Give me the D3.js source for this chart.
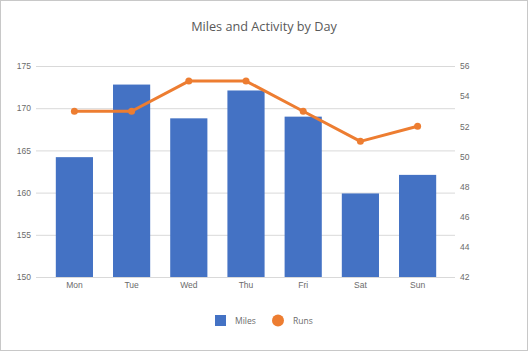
<!DOCTYPE html>
<html>
<head>
<meta charset="utf-8">
<script src="https://cdn.jsdelivr.net/npm/d3@7"></script>
<style>
  body { margin: 0; background: #fff; }
  svg { font-family: "Open Sans", "Noto Sans", sans-serif; }
</style>
</head>
<body>
<div id="chart"></div>
<script>
const days = ["Mon", "Tue", "Wed", "Thu", "Fri", "Sat", "Sun"];
const miles = [164.2, 172.8, 168.8, 172.1, 169.0, 159.9, 162.1];
const runs = [53, 53, 55, 55, 53, 51, 52];
const leftTicks = [150, 155, 160, 165, 170, 175];
const rightTicks = [42, 44, 46, 48, 50, 52, 54, 56];

const w = 528, h = 351;
const plotTop = 66, plotBottom = 277;
const gridLeft = 36, gridRight = 455;
const textColor = "#6b6b6b";

const svg = d3.select("#chart").append("svg")
  .attr("width", w).attr("height", h);

svg.append("rect")
  .attr("x", 0.5).attr("y", 0.5)
  .attr("width", w - 1).attr("height", h - 1)
  .attr("fill", "#fff").attr("stroke", "#c8c8c8");

const xScale = d3.scaleBand().domain(days).range([45.8, 446.2]).paddingInner(0.35).paddingOuter(0.175);
const yLeft = d3.scaleLinear().domain([150, 175]).range([plotBottom, plotTop]);
const yRight = d3.scaleLinear().domain([42, 56]).range([plotBottom, plotTop]);

// gridlines
svg.append("g").selectAll("line")
  .data(leftTicks)
  .enter()
  .append("line")
    .attr("x1", gridLeft).attr("x2", gridRight)
    .attr("y1", d => yLeft(d) + 0.5).attr("y2", d => yLeft(d) + 0.5)
    .attr("stroke", "#d9d9d9");

// left axis
const leftAxis = d3.axisLeft(yLeft).tickValues(leftTicks).tickSize(0).tickPadding(5);
svg.append("g")
  .attr("transform", "translate(" + gridLeft + ",0)")
  .call(leftAxis)
  .call(g => g.select(".domain").remove())
  .selectAll("text").attr("fill", textColor).attr("font-size", 8.5);

// right axis
const rightAxis = d3.axisRight(yRight).tickValues(rightTicks).tickSize(0).tickPadding(5);
svg.append("g")
  .attr("transform", "translate(" + gridRight + ",0)")
  .call(rightAxis)
  .call(g => g.select(".domain").remove())
  .selectAll("text").attr("fill", textColor).attr("font-size", 8.5);

// x axis
const xAxis = d3.axisBottom(xScale).tickSize(0).tickPadding(5);
svg.append("g")
  .attr("transform", "translate(0," + plotBottom + ")")
  .call(xAxis)
  .call(g => g.select(".domain").remove())
  .selectAll("text").attr("fill", textColor).attr("font-size", 8.5);

//-----------------bars-----------------------
svg.selectAll("rect.bar")
  .data(miles)
  .enter()
  .append("rect")
    .attr("class", "bar")
    .attr("x", (d, i) => xScale(days[i]))
    .attr("y", d => yLeft(d))
    .attr("width", xScale.bandwidth())
    .attr("height", d => plotBottom - yLeft(d))
    .attr("fill", "#4472c4");

//-----------------line-----------------------
const cx = (d, i) => xScale(days[i]) + xScale.bandwidth() / 2;
const line = d3.line().x(cx).y(d => yRight(d));
svg.append("path")
  .datum(runs)
  .attr("d", line)
  .attr("fill", "none")
  .attr("stroke", "#ed7d31")
  .attr("stroke-width", 3)
  .attr("stroke-linejoin", "round");

svg.selectAll("circle.pt")
  .data(runs)
  .enter()
  .append("circle")
    .attr("class", "pt")
    .attr("cx", cx)
    .attr("cy", d => yRight(d))
    .attr("r", 3.5)
    .attr("fill", "#ed7d31");

// title
svg.append("text")
  .attr("x", 264).attr("y", 31)
  .attr("text-anchor", "middle")
  .attr("font-size", 12.7)
  .attr("fill", "#595959")
  .text("Miles and Activity by Day");

// legend
const legend = svg.append("g");
legend.append("rect")
  .attr("x", 215).attr("y", 315).attr("width", 11).attr("height", 11)
  .attr("fill", "#4472c4");
legend.append("text")
  .attr("x", 235).attr("y", 324)
  .attr("font-size", 8.5).attr("fill", textColor)
  .text("Miles");
legend.append("circle")
  .attr("cx", 278).attr("cy", 320.5).attr("r", 6)
  .attr("fill", "#ed7d31");
legend.append("text")
  .attr("x", 293).attr("y", 324)
  .attr("font-size", 8.5).attr("fill", textColor)
  .text("Runs");
</script>
</body>
</html>
